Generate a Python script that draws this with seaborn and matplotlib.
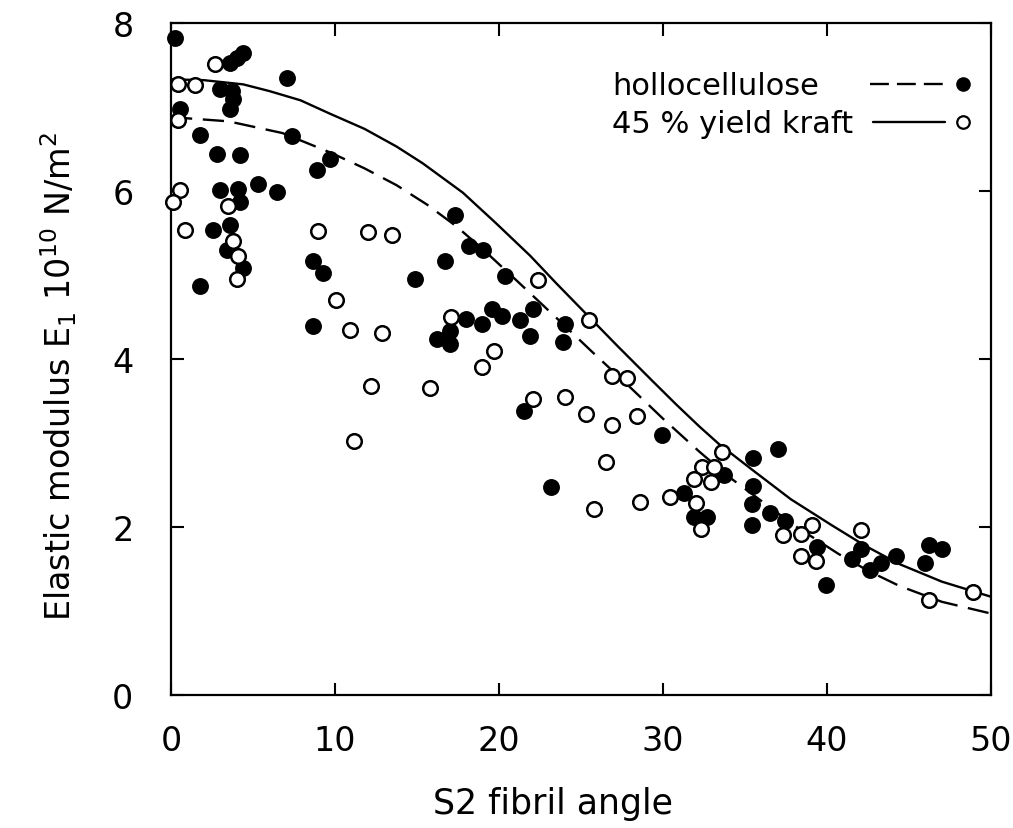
import numpy as np
import pandas as pd
import matplotlib
matplotlib.use("Agg")
import matplotlib.pyplot as plt
import seaborn as sns

# ---------------------------------------------
# data
# ---------------------------------------------

# hollocellulose (filled circles)
holo_angle = [0.24, 3.6, 4.0, 4.4, 7.05, 3.0, 3.7, 3.8, 3.6, 0.55,
              1.77, 7.4, 2.8, 4.2, 9.7, 8.9, 3.0, 4.1, 5.3, 6.45,
              4.2, 2.55, 3.6, 3.4, 4.4, 1.77, 8.65, 9.26, 14.9, 17.3,
              18.2, 19.0, 16.7, 20.35, 18.0, 18.95, 19.55, 20.2, 17.0, 16.2,
              17.0, 21.25, 22.05, 21.9, 24.0, 23.9, 21.55, 29.95, 23.2, 8.65,
              37.0, 35.5, 33.7, 35.5, 35.45, 35.45, 36.55, 37.45, 39.4, 39.95,
              41.5, 42.1, 42.6, 43.3, 44.2, 46.2, 47.0, 46.0, 31.3, 31.9,
              32.7]
holo_modulus = [7.82, 7.52, 7.58, 7.64, 7.34, 7.21, 7.19, 7.10, 6.98, 6.98,
                6.67, 6.65, 6.44, 6.43, 6.38, 6.25, 6.01, 6.02, 6.08, 5.99,
                5.87, 5.54, 5.60, 5.30, 5.08, 4.87, 5.17, 5.02, 4.95, 5.72,
                5.35, 5.30, 5.17, 4.99, 4.48, 4.42, 4.60, 4.51, 4.33, 4.24,
                4.18, 4.46, 4.60, 4.27, 4.42, 4.20, 3.38, 3.09, 2.48, 4.39,
                2.93, 2.82, 2.62, 2.49, 2.27, 2.03, 2.17, 2.07, 1.76, 1.31,
                1.62, 1.74, 1.49, 1.57, 1.66, 1.79, 1.74, 1.57, 2.40, 2.12,
                2.12]

# 45% yield kraft (open circles)
kraft_angle = [2.7, 0.43, 1.46, 0.43, 0.55, 0.12, 0.85, 3.5, 3.8, 4.1,
               4.0, 8.95, 12.0, 13.5, 10.05, 10.9, 12.85, 12.2, 15.8, 11.15,
               17.1, 22.35, 25.5, 19.7, 18.95, 26.9, 27.8, 22.05, 24.0, 25.3,
               26.9, 28.4, 26.55, 28.6, 25.8, 30.4, 33.6, 32.4, 33.1, 31.9,
               32.9, 32.0, 32.3, 39.1, 37.3, 38.4, 38.4, 39.3, 42.1, 46.2,
               48.9]
kraft_modulus = [7.51, 7.27, 7.26, 6.85, 6.01, 5.87, 5.54, 5.82, 5.41, 5.23,
                 4.95, 5.53, 5.51, 5.48, 4.70, 4.35, 4.31, 3.68, 3.65, 3.03,
                 4.50, 4.94, 4.46, 4.10, 3.90, 3.80, 3.78, 3.52, 3.55, 3.34,
                 3.22, 3.32, 2.77, 2.30, 2.22, 2.36, 2.89, 2.71, 2.72, 2.57,
                 2.54, 2.29, 1.98, 2.02, 1.91, 1.92, 1.65, 1.59, 1.97, 1.13,
                 1.23]

# fitted curves
holo_fit_angle = [0, 3.5, 6.8, 9.7, 11.8, 13.75, 15.6, 17.4, 19.0, 21.1,
                  23.5, 25.6, 27.8, 30.0, 32.2, 34.0, 35.45, 38.0, 40.7, 42.5,
                  44.4, 47.0, 50]
holo_fit_modulus = [6.88, 6.83, 6.69, 6.46, 6.27, 6.07, 5.84, 5.58, 5.31, 4.93,
                    4.49, 4.10, 3.70, 3.29, 2.90, 2.60, 2.39, 2.02, 1.68, 1.48,
                    1.30, 1.11, 0.97]

kraft_fit_angle = [0, 2.0, 4.4, 6.0, 7.9, 9.7, 11.8, 13.75, 15.35, 17.8,
                   19.8, 21.9, 23.5, 25.1, 27.2, 29.35, 30.8, 32.2, 33.4, 35.45,
                   37.8, 40.3, 42.3, 44.4, 47.0, 50]
kraft_fit_modulus = [7.33, 7.32, 7.27, 7.19, 7.08, 6.92, 6.74, 6.53, 6.33, 5.98,
                     5.62, 5.23, 4.90, 4.58, 4.16, 3.74, 3.46, 3.20, 2.99, 2.68,
                     2.33, 2.02, 1.78, 1.56, 1.35, 1.17]

# ---------------------------------------------
# plot
# ---------------------------------------------

sns.set_theme(style="ticks")
plt.rcParams["font.family"] = ["DejaVu Sans"]
plt.rcParams["mathtext.default"] = "regular"
plt.rcParams["text.color"] = "black"
plt.rcParams["axes.labelcolor"] = "black"

fig = plt.figure(figsize=(10.13, 8.29), dpi=100)
ax = fig.add_axes([0.1688, 0.1604, 0.8095, 0.8106])

sns.lineplot(x=holo_fit_angle, y=holo_fit_modulus, ax=ax, color="black",
             linewidth=1.7, sort=False, estimator=None, zorder=1)
ax.lines[-1].set_dashes([9, 4.5])

sns.lineplot(x=kraft_fit_angle, y=kraft_fit_modulus, ax=ax, color="black",
             linewidth=1.7, sort=False, estimator=None, zorder=1)

sns.scatterplot(x=holo_angle, y=holo_modulus, ax=ax, color="black",
                edgecolor="black", s=120, linewidth=1.2, zorder=3,
                clip_on=False)
sns.scatterplot(x=kraft_angle, y=kraft_modulus, ax=ax, color="white",
                edgecolor="black", s=110, linewidth=1.8, zorder=4,
                clip_on=False)

ax.set_xlim(0, 50)
ax.set_ylim(0, 8)
ax.set_xticks(range(0, 51, 10))
ax.set_yticks(range(0, 9, 2))

for side in ["left", "right", "top", "bottom"]:
    ax.spines[side].set_linewidth(1.6)
    ax.spines[side].set_color("black")

ax.tick_params(axis="both", direction="in", length=9, width=1.5,
               top=True, right=True, labelsize=24, colors="black")
ax.tick_params(axis="x", pad=21)
ax.tick_params(axis="y", pad=27)

ax.set_xlabel("S2 fibril angle", fontsize=25)
ax.set_ylabel("Elastic modulus E$_1$ 10$^{10}$ N/m$^2$", fontsize=24)
ax.xaxis.set_label_coords(0.466, -0.135)
ax.yaxis.set_label_coords(-0.112, 0.475)

# legend drawn by hand, marker at the end of the line
ax.text(0.538, 0.894, "hollocellulose", transform=ax.transAxes,
        fontsize=22, va="baseline", ha="left")
ax.text(0.538, 0.838, "45 % yield kraft", transform=ax.transAxes,
        fontsize=22, va="baseline", ha="left")

ax.plot([0.852, 0.941], [0.909, 0.909], transform=ax.transAxes,
        color="black", linewidth=1.7, dashes=[8, 3.4])
ax.plot([0.856, 0.944], [0.853, 0.853], transform=ax.transAxes,
        color="black", linewidth=1.7)
ax.plot([0.966], [0.909], transform=ax.transAxes, marker="o",
        markersize=9.5, color="black", linestyle="none")
ax.plot([0.966], [0.853], transform=ax.transAxes, marker="o",
        markersize=9, markerfacecolor="white", markeredgecolor="black",
        markeredgewidth=1.6, linestyle="none")

fig.savefig("out.png", dpi=100, facecolor="white")
